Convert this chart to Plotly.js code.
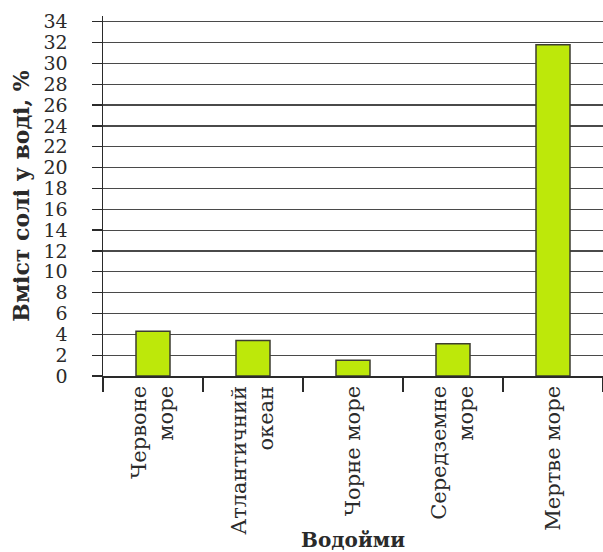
<!DOCTYPE html>
<html>
<head>
<meta charset="utf-8">
<script src="https://cdn.plot.ly/plotly-3.0.1.min.js"></script>
<style>html,body{margin:0;padding:0;background:#fff;}#chart{width:603px;height:552px;}</style>
</head>
<body>
<div id="chart"></div>
<script>
const categories = ["Червоне<br>море", "Атлантичний<br>океан", "Чорне море", "Середземне<br>море", "Мертве море"];
const salinity = [4.3, 3.4, 1.5, 3.1, 31.8];
const yTicks = [0, 2, 4, 6, 8, 10, 12, 14, 16, 18, 20, 22, 24, 26, 28, 30, 32, 34];
const yTitle = "Вміст солі у воді, %";
const xTitle = "Водойми";

const ink = "#2a2a2a";
const serif = "DejaVu Serif, Liberation Serif, serif";

const trace = {
  type: "bar",
  x: categories,
  y: salinity,
  width: 0.34,
  marker: { color: "#bde80a", line: { color: "#3d3d30", width: 1.5 } },
  hoverinfo: "x+y"
};

const layout = {
  width: 603,
  height: 552,
  margin: { l: 103, r: 0, t: 16, b: 176, pad: 0 },
  paper_bgcolor: "#fff",
  plot_bgcolor: "#fff",
  showlegend: false,
  font: { family: serif, color: ink },
  xaxis: {
    type: "category",
    range: [-0.5, 4.5],
    tickson: "boundaries",
    ticks: "outside",
    ticklen: 14,
    tickwidth: 1.5,
    tickcolor: ink,
    tickangle: -90,
    tickfont: { family: serif, size: 21, color: ink },
    showline: true,
    linecolor: ink,
    linewidth: 1.5,
    showgrid: false,
    automargin: false,
    title: { text: xTitle, font: { family: serif, size: 20, color: ink, weight: "bold" }, standoff: 5 }
  },
  yaxis: {
    range: [0, 34.55],
    tickvals: yTicks,
    ticktext: yTicks.map(String),
    ticks: "outside",
    ticklen: 10,
    tickwidth: 1.3,
    tickcolor: ink,
    ticklabelstandoff: 20,
    tickfont: { family: serif, size: 19, color: ink },
    showline: true,
    linecolor: ink,
    linewidth: 1.5,
    showgrid: true,
    gridcolor: "#4a4a4a",
    gridwidth: 1.2,
    zeroline: false,
    automargin: false,
    title: { text: yTitle, font: { family: serif, size: 22, color: ink, weight: "bold" }, standoff: 8 }
  }
};

Plotly.newPlot("chart", [trace], layout, { displayModeBar: false, staticPlot: true });
</script>
</body>
</html>
